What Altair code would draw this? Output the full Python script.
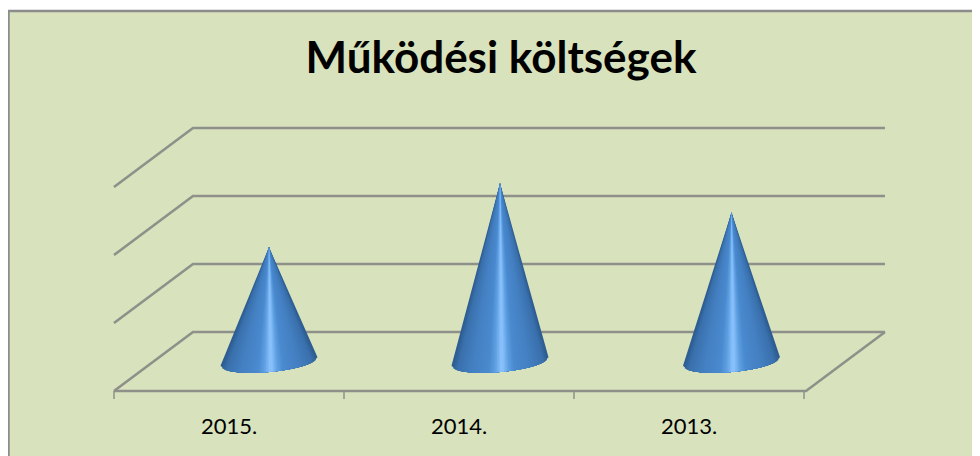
import altair as alt
import pandas as pd

# ---- chart values ----
categories = ["2015.", "2014.", "2013."]
values = [1.68, 2.62, 2.19]
gridlines = [0, 1, 2, 3]
title_text = "Működési költségek"
# cone shading: (position from silhouette 0 to centre 1, r, g, b)
shade_stops = [(0.0, 46, 93, 146), (0.1, 58, 112, 172), (0.4, 68, 128, 194),
               (0.75, 74, 138, 206), (0.88, 94, 159, 226), (1.0, 134, 191, 250)]
SHADE_COUNT = 30

PX_X, PX_Y = 230.0, 68.0
W, H = 964, 448
x_dom = [(8 - 114) / PX_X, (972 - 114) / PX_X]
y_dom = [(391 - 456) / PX_Y, (391 - 8) / PX_Y]
dx, dy = 79 / PX_X, 59 / PX_Y
n = len(categories)
floor_end = n + 2 / PX_X
cone_nudge = [0.5 / PX_X, 1.5 / PX_X, 3 / PX_X]

xs = alt.Scale(domain=x_dom, range=[0, W], nice=False, zero=False)
ys = alt.Scale(domain=y_dom, range=[H, 0], nice=False, zero=False)
X = lambda f="x": alt.X(f"{f}:Q", scale=xs, axis=None)
Y = lambda f="y": alt.Y(f"{f}:Q", scale=ys, axis=None, stack=None)


def shade(p):
    for a, b in zip(shade_stops, shade_stops[1:]):
        if p <= b[0]:
            t = (p - a[0]) / (b[0] - a[0])
            return "#%02x%02x%02x" % tuple(round(a[j] + (b[j] - a[j]) * t) for j in (1, 2, 3))
    return "#%02x%02x%02x" % shade_stops[-1][1:]


# panel
panel = pd.DataFrame([{"x": x_dom[0], "x2": x_dom[1], "y": y_dom[0], "y2": (391 - 11) / PX_Y}])
bg = alt.Chart(panel).mark_rect(color="#d8e2bc").encode(
    X(), x2="x2:Q", y=Y(), y2="y2:Q")
frame_df = pd.DataFrame([
    {"x": x_dom[0] + 0.5 / PX_X, "y": y_dom[0], "o": 0},
    {"x": x_dom[0] + 0.5 / PX_X, "y": (391 - 11) / PX_Y, "o": 1},
    {"x": x_dom[1], "y": (391 - 11) / PX_Y, "o": 2},
])
frame = alt.Chart(frame_df).mark_line(color="#8c8c8c", strokeWidth=2.5).encode(
    X(), Y(), order="o:Q")

# walls / floor lines
rows = []
for g in gridlines:
    rows += [{"x": 0, "y": g, "g": g, "o": 0},
             {"x": dx, "y": g + dy, "g": g, "o": 1},
             {"x": floor_end + dx, "y": g + dy, "g": g, "o": 2}]
rows += [{"x": 0, "y": 0, "g": -1, "o": 0},
         {"x": floor_end, "y": 0, "g": -1, "o": 1},
         {"x": floor_end + dx, "y": dy, "g": -1, "o": 2}]
grid = alt.Chart(pd.DataFrame(rows)).mark_line(color="#8e918a", strokeWidth=2.6, strokeJoin="miter").encode(
    X(), Y(), detail="g:N", order="o:Q")

# tick marks
ticks = pd.DataFrame([{"x": i, "y": 0, "y2": -8 / PX_Y} for i in range(n + 1)])
tick_layer = alt.Chart(ticks).mark_rule(color="#8e918a", strokeWidth=1.5).encode(
    X(), Y(), y2="y2:Q")

# labels
lab = pd.DataFrame([{"x": i + 0.5, "y": -36 / PX_Y, "t": c} for i, c in enumerate(categories)])
labels = alt.Chart(lab).mark_text(font="Lato", fontSize=22, color="#000000", baseline="middle", align="center").encode(
    X(), Y(), text="t:N")

# cones: nested fans from the dark silhouette in to the light centre
A = 48.5 / PX_X
B = 10.5 / PX_Y
TILT = (8.5 / 97) * (PX_X / PX_Y)
rows = []
STEPS = 10
for i, v in enumerate(values):
    cx, cy = i + 0.5 + dx / 2 + cone_nudge[i], dy / 2

    def bottom(x):
        u = (x - cx) / A
        return cy + TILT * (x - cx) - B * max(0.0, 1 - u * u) ** 0.5

    ax, ay = cx, cy + v
    for s in range(SHADE_COUNT):
        p = s / (SHADE_COUNT - 1)
        frac = 1 - p * 0.96
        shift = p * 2.0 / PX_X          # the highlight sits a little right of centre
        half = A * frac
        left = min(cx + shift - half, ax - 0.2 / PX_X)
        right = cx + shift + half
        pts = sorted(set([left + (right - left) * k / (2 * STEPS) for k in range(2 * STEPS + 1)] + [ax]))
        for x in pts:
            if x <= ax:
                t = (x - left) / (ax - left)
                top = bottom(left) + (ay - bottom(left)) * t
            else:
                t = (right - x) / (right - ax)
                top = bottom(right) + (ay - bottom(right)) * t
            rows.append({"x": x, "y": top, "y2": bottom(x), "k": f"{i}-{s:02d}", "c": shade(p)})
cone_df = pd.DataFrame(rows)
cones = alt.Chart(cone_df).mark_area(interpolate="linear", orient="vertical").encode(
    X(), Y(), y2="y2:Q",
    fill=alt.Fill("c:N", scale=None),
    detail="k:N")

chart = alt.layer(bg, frame, grid, tick_layer, cones, labels).properties(
    width=W, height=H,
    padding=0,
    autosize=alt.AutoSizeParams(type="none"),
    title=alt.TitleParams(title_text, font="Lato", fontSize=44, fontWeight="bold", color="#000000",
                          anchor="middle", offset=-111, dx=11, baseline="alphabetic"),
).configure_view(stroke=None)

chart.save("out.html", embed_options={"renderer": "svg", "actions": False})
